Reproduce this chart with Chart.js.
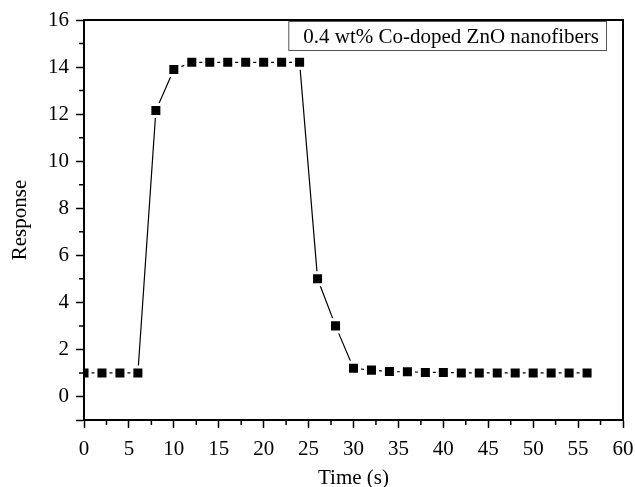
<!DOCTYPE html>
<html>
<head>
<meta charset="utf-8">
<script src="https://cdn.jsdelivr.net/npm/chart.js@4"></script>
<style>
  body { margin: 0; background: #fff; }
  #wrap { width: 635px; height: 487px; }
</style>
</head>
<body>
<div id="wrap"><canvas id="chart"></canvas></div>
<script>
const times = [0, 2, 4, 6, 8, 10, 12, 14, 16, 18, 20, 22, 24, 26, 28, 30, 32, 34, 36, 38, 40, 42, 44, 46, 48, 50, 52, 54, 56]
const response = [1, 1, 1, 1, 12.15, 13.9, 14.2, 14.2, 14.2, 14.2, 14.2, 14.2, 14.2, 5.0, 3.0, 1.2, 1.12, 1.06, 1.05, 1.02, 1.02, 1.0, 1.0, 1.0, 1.0, 1.0, 1.0, 1.0, 1.0]
const xTicks = [0, 5, 10, 15, 20, 25, 30, 35, 40, 45, 50, 55, 60]
const xMinor = [2.5, 7.5, 12.5, 17.5, 22.5, 27.5, 32.5, 37.5, 42.5, 47.5, 52.5, 57.5]
const yTicks = [-1, 0, 2, 4, 6, 8, 10, 12, 14, 16]
const yMinor = [1, 3, 5, 7, 9, 11, 13, 15]
const seriesLabel = '0.4 wt% Co-doped ZnO nanofibers'

const serif = 'Liberation Serif'

// frame, minor ticks and label box
const extras = {
    id: 'extras',
    afterDraw(chart) {
        const ctx = chart.ctx
        const a = chart.chartArea
        const xs = chart.scales.x
        const ys = chart.scales.y
        ctx.save()
        ctx.strokeStyle = '#000'
        ctx.lineWidth = 2
        ctx.strokeRect(a.left, a.top, a.right - a.left, a.bottom - a.top)

        ctx.lineWidth = 1.5
        ctx.beginPath()
        xMinor.forEach(v => {
            const px = xs.getPixelForValue(v)
            ctx.moveTo(px, a.bottom)
            ctx.lineTo(px, a.bottom + 5)
        })
        yMinor.forEach(v => {
            const py = ys.getPixelForValue(v)
            ctx.moveTo(a.left, py)
            ctx.lineTo(a.left - 5, py)
        })
        ctx.stroke()

        // label box
        ctx.font = '21px "' + serif + '"'
        const w = ctx.measureText(seriesLabel).width
        const bw = w + 22
        const bx = a.right - 17 - bw
        const by = a.top + 1
        ctx.fillStyle = '#fff'
        ctx.fillRect(bx, by, bw, 29)
        ctx.lineWidth = 1
        ctx.strokeStyle = '#555'
        ctx.strokeRect(bx + 0.5, by + 0.5, bw, 29)
        ctx.fillStyle = '#000'
        ctx.textBaseline = 'middle'
        ctx.fillText(seriesLabel, bx + 15, by + 16)
        ctx.restore()
    }
}

const chart = document.querySelector('#chart').getContext('2d')

new Chart(chart, {
    type: 'line',
    data: {
        datasets: [
            {
                label: seriesLabel,
                data: times.map((t, i) => ({ x: t, y: response[i] })),
                borderColor: '#000',
                backgroundColor: '#000',
                borderWidth: 1.2,
                pointStyle: 'rect',
                pointRadius: 8.5,
                pointHoverRadius: 8.5,
                pointBackgroundColor: '#000',
                pointBorderColor: '#fff',
                pointBorderWidth: 3,
                tension: 0
            }
        ]
    },
    options: {
        responsive: true,
        maintainAspectRatio: false,
        animation: false,
        layout: { padding: { top: 20, right: 12, left: 4, bottom: 0 } },
        plugins: {
            legend: { display: false },
            tooltip: { enabled: false }
        },
        scales: {
            x: {
                type: 'linear',
                min: 0,
                max: 60,
                afterBuildTicks: s => { s.ticks = xTicks.map(v => ({ value: v })) },
                afterFit: s => {
                    s.height = 67
                    s.paddingLeft = 0
                    s.paddingRight = 0
                },
                grid: { drawOnChartArea: false, tickLength: 8, tickWidth: 1.5, tickColor: '#000' },
                border: { color: '#000', width: 2 },
                ticks: { color: '#000', font: { family: serif, size: 21 }, padding: 9, maxRotation: 0 },
                title: { display: true, text: 'Time (s)', color: '#000', font: { family: serif, size: 21 }, padding: { top: 0, bottom: -4 } }
            },
            y: {
                min: -1,
                max: 16,
                afterBuildTicks: s => { s.ticks = yTicks.map(v => ({ value: v })) },
                afterFit: s => { s.width = 80 },
                grid: { drawOnChartArea: false, tickLength: 8, tickWidth: 1.5, tickColor: '#000' },
                border: { color: '#000', width: 2 },
                ticks: {
                    color: '#000',
                    font: { family: serif, size: 21 },
                    padding: 7,
                    callback: v => v < 0 ? '' : v
                },
                title: { display: true, text: 'Response', color: '#000', font: { family: serif, size: 21 }, padding: { bottom: 10 } }
            }
        }
    },
    plugins: [extras]
})
</script>
</body>
</html>
